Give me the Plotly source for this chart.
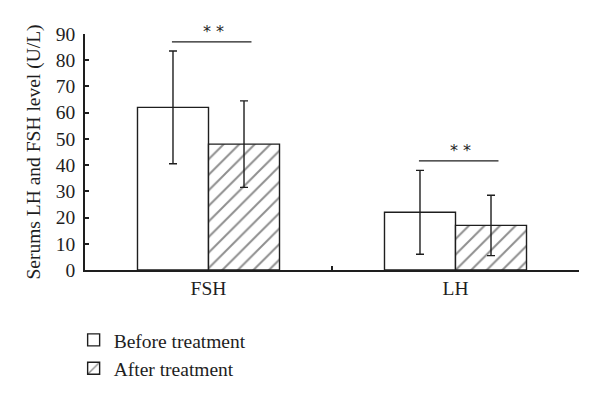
import plotly.graph_objects as go

categories = ["FSH", "LH"]
before_vals = [62, 22]
before_err = [21.5, 16]
after_vals = [48, 17]
after_err = [16.5, 11.5]
series_names = ["Before treatment", "After treatment"]
y_ticks = [0, 10, 20, 30, 40, 50, 60, 70, 80, 90]
sig_labels = ["* *", "* *"]
sig_line_y = [87, 41.6]

FONT = "Liberation Serif"
INK = "#1e1e1e"
FS = 19.5

fig = go.Figure()
fig.add_trace(go.Bar(
    x=categories, y=before_vals, name=series_names[0],
    marker=dict(color="white", line=dict(color=INK, width=1.4)),
    error_y=dict(type="data", array=before_err, visible=True,
                 color=INK, thickness=1.4, width=4),
))
fig.add_trace(go.Bar(
    x=categories, y=after_vals, name=series_names[1],
    marker=dict(color="white", line=dict(color=INK, width=1.4),
                pattern=dict(shape="/", fgcolor=INK, bgcolor="white",
                             size=11, solidity=0.18)),
    error_y=dict(type="data", array=after_err, visible=True,
                 color=INK, thickness=1.4, width=4),
))

for i in range(len(categories)):
    fig.add_shape(type="line", xref="x", yref="y",
                  x0=i - 0.148, x1=i + 0.174, y0=sig_line_y[i], y1=sig_line_y[i],
                  line=dict(color=INK, width=1.4))
    fig.add_annotation(x=i + 0.02, y=sig_line_y[i], xref="x", yref="y",
                       yanchor="bottom", yshift=-1,
                       text=sig_labels[i], showarrow=False,
                       font=dict(family="DejaVu Sans", size=16, color=INK))

fig.update_layout(
    width=600, height=400,
    margin=dict(l=84.5, r=20.7, t=34, b=127.3),
    paper_bgcolor="white", plot_bgcolor="white",
    barmode="group", bargap=0.425, bargroupgap=0,
    font=dict(family=FONT, size=FS, color=INK),
    showlegend=True,
    legend=dict(x=-0.023, y=-0.215, xanchor="left", yanchor="top",
                font=dict(family=FONT, size=FS, color=INK),
                bgcolor="rgba(0,0,0,0)", tracegroupgap=0, itemwidth=30),
)
fig.update_xaxes(
    range=[-0.5, 1.5], showline=True, linecolor=INK, linewidth=1.5,
    ticks="inside", tickson="boundaries", ticklen=4, tickcolor=INK, tickwidth=1.5,
    showgrid=False, zeroline=False, automargin=False,
    tickfont=dict(family=FONT, size=FS, color=INK),
)
fig.update_yaxes(
    range=[0, 90], tickvals=y_ticks, showline=True, linecolor=INK, linewidth=1.5,
    ticks="inside", ticklen=4, tickcolor=INK, tickwidth=1.5,
    ticklabelstandoff=4, automargin=False,
    showgrid=False, zeroline=False,
    tickfont=dict(family=FONT, size=FS, color=INK),
    title=dict(text="Serums LH and FSH level (U/L)", standoff=10,
               font=dict(family=FONT, size=FS, color=INK)),
)

fig.write_html("out.html", config={"displayModeBar": False},
               post_script="document.body.style.margin='0';")
